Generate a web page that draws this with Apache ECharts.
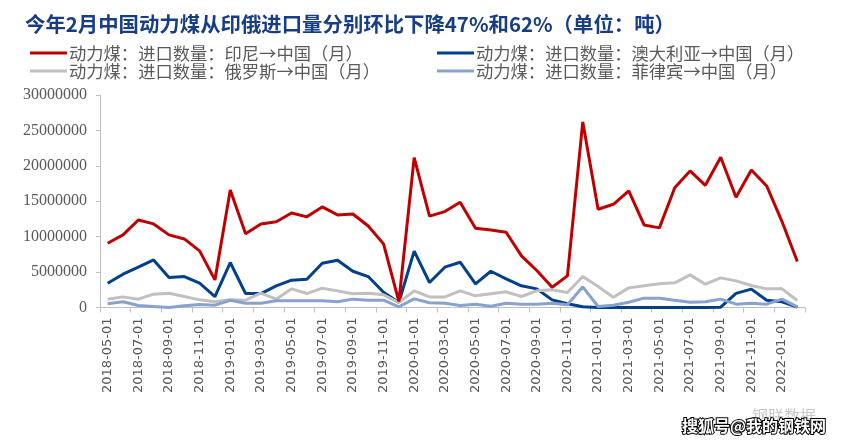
<!DOCTYPE html>
<html>
<head>
<meta charset="utf-8">
<script src="https://cdn.jsdelivr.net/npm/echarts@6/dist/echarts.min.js"></script>
<style>
html,body{margin:0;padding:0;background:#fff;}
#c{width:844px;height:443px;}
</style>
</head>
<body>
<div id="c"></div>
<script>
const categories = ["2018-05-01","2018-06-01","2018-07-01","2018-08-01","2018-09-01","2018-10-01","2018-11-01","2018-12-01",
"2019-01-01","2019-02-01","2019-03-01","2019-04-01","2019-05-01","2019-06-01","2019-07-01","2019-08-01","2019-09-01","2019-10-01","2019-11-01","2019-12-01",
"2020-01-01","2020-02-01","2020-03-01","2020-04-01","2020-05-01","2020-06-01","2020-07-01","2020-08-01","2020-09-01","2020-10-01","2020-11-01","2020-12-01",
"2021-01-01","2021-02-01","2021-03-01","2021-04-01","2021-05-01","2021-06-01","2021-07-01","2021-08-01","2021-09-01","2021-10-01","2021-11-01","2021-12-01",
"2022-01-01","2022-02-01"];

const seriesNames = ["动力煤：进口数量：印尼→中国（月）","动力煤：进口数量：澳大利亚→中国（月）","动力煤：进口数量：俄罗斯→中国（月）","动力煤：进口数量：菲律宾→中国（月）"];

const indonesia = [9070000,10250000,12360000,11800000,10250000,9680000,8000000,3900000,16600000,10400000,11800000,12100000,13350000,12800000,14200000,13070000,13200000,11500000,8980000,850000,
21160000,12900000,13540000,14860000,11190000,10950000,10630000,7290000,5220000,2870000,4470000,26200000,13870000,14570000,16450000,11660000,11240000,16900000,19280000,17250000,21200000,15560000,19420000,17160000,12130000,6490000];

const australia = [3430000,4700000,5690000,6720000,4230000,4370000,3430000,1550000,6350000,1970000,1970000,3060000,3860000,4000000,6250000,6680000,5120000,4370000,2160000,700000,
7950000,3530000,5690000,6390000,3340000,5120000,4040000,3060000,2630000,1080000,520000,100000,0,0,0,0,0,0,0,0,50000,2000000,2590000,1030000,800000,50000];

const russia = [1180000,1500000,1180000,1880000,2020000,1550000,1080000,800000,1080000,1030000,2020000,1180000,2630000,1970000,2730000,2350000,1930000,2020000,1790000,700000,
2350000,1500000,1500000,2350000,1650000,1930000,2210000,1550000,2350000,2490000,2120000,4370000,2960000,1460000,2770000,3060000,3340000,3480000,4610000,3290000,4180000,3760000,3100000,2630000,2630000,990000];

const philippines = [520000,800000,280000,140000,0,240000,420000,330000,1030000,610000,610000,940000,940000,940000,940000,800000,1180000,1030000,1030000,100000,
1220000,660000,610000,280000,470000,190000,610000,470000,470000,610000,380000,2920000,140000,330000,750000,1320000,1320000,1030000,750000,800000,1180000,470000,610000,470000,1180000,100000];

const yTicks = [0,5000000,10000000,15000000,20000000,25000000,30000000];

const colors = ["#C00000","#023F8C","#C0C0C0","#87A2D0"];
const seriesData = [indonesia, australia, russia, philippines];

const chart = echarts.init(document.getElementById('c'), null, {renderer:'canvas'});

const legendPos = [[30,44],[437,44],[30,62],[437,62]];
const legends = seriesNames.map((n,i)=>({
  data:[n], left:legendPos[i][0], top:legendPos[i][1], padding:0,
  icon:'rect', itemWidth:37, itemHeight:3,
  textStyle:{fontFamily:'Noto Sans CJK SC', fontSize:17.3, color:'#5a5a5a', lineHeight:18, padding:[0,0,0,-3]},
  selectedMode:false
}));

chart.setOption({
  animation:false,
  backgroundColor:'#ffffff',
  title:{
    text:'今年2月中国动力煤从印俄进口量分别环比下降47%和62%（单位：吨）',
    left:20, top:9,
    textStyle:{fontFamily:'Noto Sans CJK SC', fontSize:20.4, fontWeight:'bold', color:'#173D85'}
  },
  legend:legends,
  grid:{left:100, right:39, top:95, bottom:135.5, containLabel:false},
  xAxis:{
    type:'category', data:categories, boundaryGap:true,
    axisLine:{lineStyle:{color:'#BFBFBF', width:1}},
    axisTick:{show:true, interval:1, length:5, lineStyle:{color:'#BFBFBF'}},
    axisLabel:{interval:1, rotate:90, margin:10, fontFamily:'DejaVu Sans', fontSize:13, color:'#595959'},
    splitLine:{show:false}
  },
  yAxis:{
    type:'value', min:yTicks[0], max:yTicks[yTicks.length-1], interval:5000000,
    axisLine:{show:true, lineStyle:{color:'#BFBFBF', width:1}},
    axisTick:{show:true, length:4, lineStyle:{color:'#BFBFBF'}},
    axisLabel:{margin:13, fontFamily:'Liberation Serif', fontSize:16, color:'#595959', formatter:v=>String(v)},
    splitLine:{show:false}
  },
  series:seriesNames.map((n,i)=>({
    name:n, type:'line', data:seriesData[i], symbol:'none', smooth:false,
    lineStyle:{color:colors[i], width:3}, itemStyle:{color:colors[i]},
    z: i===0 ? 5 : 2
  })),
  graphic:[
    {type:'text', left:752, top:408, z:1, style:{text:'钢联数据', font:'16px "Noto Sans CJK SC"', fill:'#C8C8C8'}},
    {type:'text', left:681, top:417, z:10, style:{text:'搜狐号@我的钢铁网', font:'bold 16px "Noto Sans CJK SC"', fill:'#ffffff', stroke:'#000000', lineWidth:2}}
  ]
});
</script>
</body>
</html>
